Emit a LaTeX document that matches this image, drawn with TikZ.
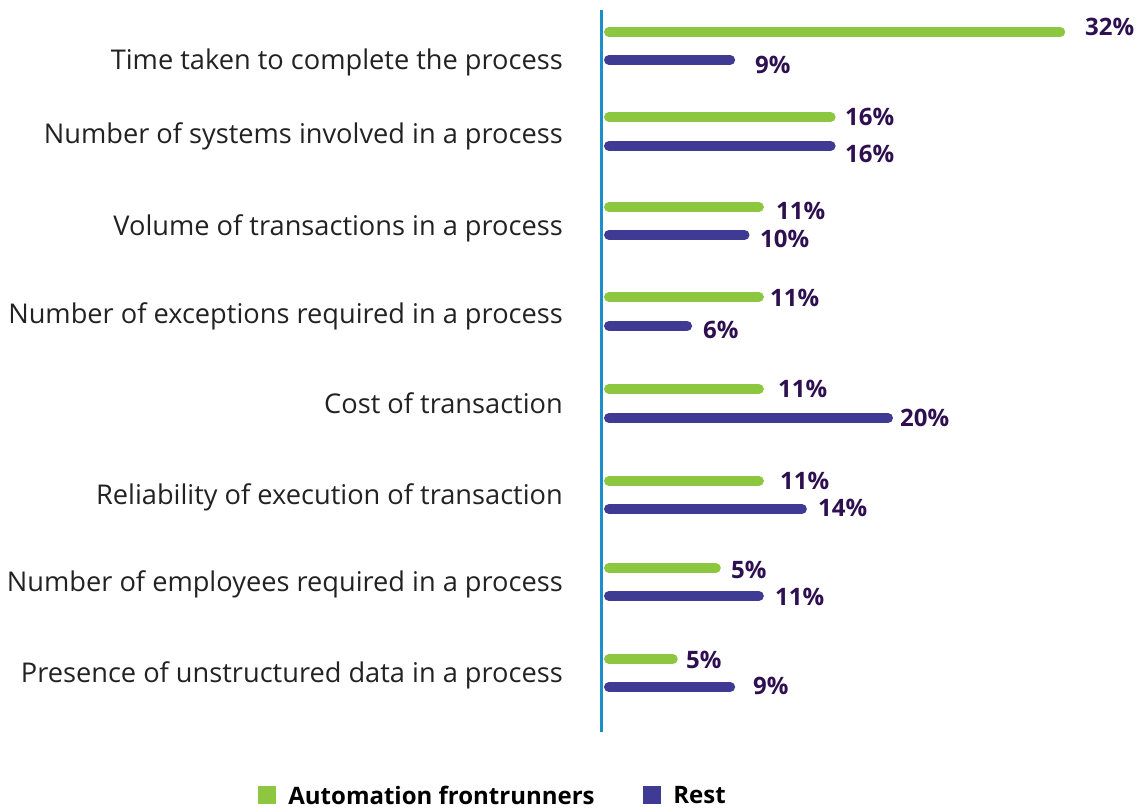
\documentclass[tikz,border=0pt]{standalone}
\usepackage{fontspec}
\setmainfont{Open Sans}
\usetikzlibrary{positioning}
\definecolor{frontgreen}{HTML}{8DC63F}
\definecolor{restblue}{HTML}{3F3A93}
\definecolor{pctpurple}{HTML}{2E1050}
\definecolor{axisblue}{HTML}{1A8FC9}
\definecolor{labelgray}{HTML}{222222}
\tikzstyle{bargreen} = [line width=10pt, line cap=round, frontgreen]
\tikzstyle{barblue} = [line width=10pt, line cap=round, restblue]
\tikzstyle{rowlabel} = [anchor=east, inner sep=0pt, text=labelgray, font=\fontsize{27.2}{31}\selectfont]
\tikzstyle{pct} = [anchor=west, inner sep=0pt, text=pctpurple, font=\fontsize{24}{28}\selectfont\bfseries]
\tikzstyle{legendbox} = [minimum size=18pt, inner sep=0pt]
\tikzstyle{legendtext} = [anchor=west, inner sep=0pt, text=black, font=\fontsize{24}{28}\selectfont\bfseries]

\begin{document}
\begin{tikzpicture}[x=1pt, y=-1pt]
            \useasboundingbox (0,0) rectangle (1140,809);
            % axis
            \coordinate (axistop) at (601,10);
            \coordinate (axisbot) at (601,732);
            \draw [axisblue, line width=3pt] (axistop) -- (axisbot);
            % rows: label y / green y, value, bar length, label x, label y / blue y, value, label x, label y / text
            \foreach \i/\ly/\gy/\g/\gl/\gx/\gpy/\by/\b/\bx/\bpy/\txt in {
                1/62/32/32/32/1085/27/60/9/755/65/{Time taken to complete the process},
                2/136/117/16/16/845/117/146/16/845/154/{Number of systems involved in a process},
                3/228/207/11/11/776/211/235/10/760/239/{Volume of transactions in a process},
                4/316/297/11/11/770/298/326/6/703/330/{Number of exceptions required in a process},
                5/403/389/11/11/778/389/418/20/900/418/{Cost of transaction},
                6/497/481/11/11/780/481/509/14/818/508/{Reliability of execution of transaction},
                7/584/568/5/8/731/570/596/11/775/597/{Number of employees required in a process},
                8/675/659/5/5/686/660/687/9/753/686/{Presence of unstructured data in a process}} {
                \node [rowlabel] (lab\i) at (563,\ly) {\txt};
                \coordinate (gs\i) at (609,\gy);
                \coordinate (ge\i) at (601+14.35*\gl,\gy);
                \coordinate (bs\i) at (609,\by);
                \coordinate (be\i) at (601+14.35*\b,\by);
                \draw [bargreen] (gs\i) -- (ge\i);
                \draw [barblue] (bs\i) -- (be\i);
                \node [pct] (gp\i) at (\gx,\gpy) {\g\%};
                \node [pct] (bp\i) at (\bx,\bpy) {\b\%};
            }
            % legend
            \node [legendbox, fill=frontgreen] (keyfront) at (267,795) {};
            \node [legendtext, right=12pt of keyfront] (keyfronttxt) {Automation frontrunners};
            \node [legendbox, fill=restblue] (keyrest) at (652,795) {};
            \node [legendtext, right=12pt of keyrest] (keyresttxt) {Rest};
\end{tikzpicture}
\end{document}
